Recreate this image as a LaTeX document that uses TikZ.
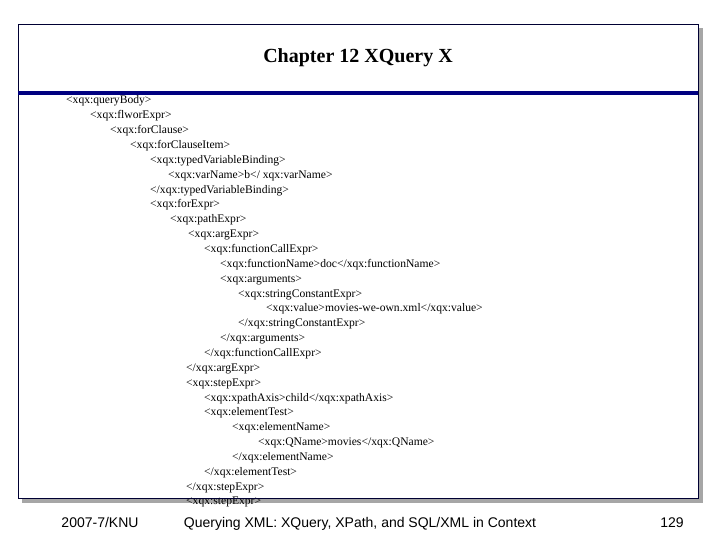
\documentclass[tikz,border=0pt]{standalone}
\usepackage{fontspec}
\setmainfont{Liberation Serif}
\newfontfamily\arialf{Liberation Sans}
\begin{document}
\begin{tikzpicture}[x=1pt,y=-1pt,
  ln/.style={anchor=base west,inner sep=0pt,font=\fontsize{11.6}{13}\selectfont},
  ft/.style={anchor=base,inner sep=0pt,font=\arialf\fontsize{14}{16}\selectfont}]
\useasboundingbox (0,0) rectangle (720,540);
\fill[white] (0,0) rectangle (720,540);
\fill[gray!70] (22,28) rectangle (703,503);
\fill[white] (18,24) rectangle (698,498);
\draw[black!80!blue,line width=0.8pt] (18,24) rectangle (698,498);
\fill[blue!50!black] (18,91) rectangle (698,95);
\node[inner sep=0pt,font=\bfseries\fontsize{20}{23}\selectfont] (title) at (358,58) {Chapter 12 XQuery X};
\foreach \x/\t [count=\i] in {
66/{<xqx:queryBody>},
90/{<xqx:flworExpr>},
110/{<xqx:forClause>},
130/{<xqx:forClauseItem>},
150/{<xqx:typedVariableBinding>},
168/{<xqx:varName>b</ xqx:varName>},
150/{</xqx:typedVariableBinding>},
150/{<xqx:forExpr>},
170/{<xqx:pathExpr>},
188/{<xqx:argExpr>},
204/{<xqx:functionCallExpr>},
220/{<xqx:functionName>doc</xqx:functionName>},
220/{<xqx:arguments>},
238/{<xqx:stringConstantExpr>},
266/{<xqx:value>movies-we-own.xml</xqx:value>},
238/{</xqx:stringConstantExpr>},
220/{</xqx:arguments>},
204/{</xqx:functionCallExpr>},
186/{</xqx:argExpr>},
186/{<xqx:stepExpr>},
204/{<xqx:xpathAxis>child</xqx:xpathAxis>},
204/{<xqx:elementTest>},
232/{<xqx:elementName>},
258/{<xqx:QName>movies</xqx:QName>},
232/{</xqx:elementName>},
204/{</xqx:elementTest>},
186/{</xqx:stepExpr>},
186/{<xqx:stepExpr>}}
  \node[ln] (l\i) at (\x,{104+(\i-1)*14.85}) {\t};
\draw[black!80!blue,line width=0.8pt] (18,498) -- (698,498);
\node[ft] (f1) at (100,527) {2007-7/KNU};
\node[ft] (f2) at (360,527) {Querying XML: XQuery, XPath, and SQL/XML in Context};
\node[ft] (f3) at (672,527) {129};
\end{tikzpicture}
\end{document}
